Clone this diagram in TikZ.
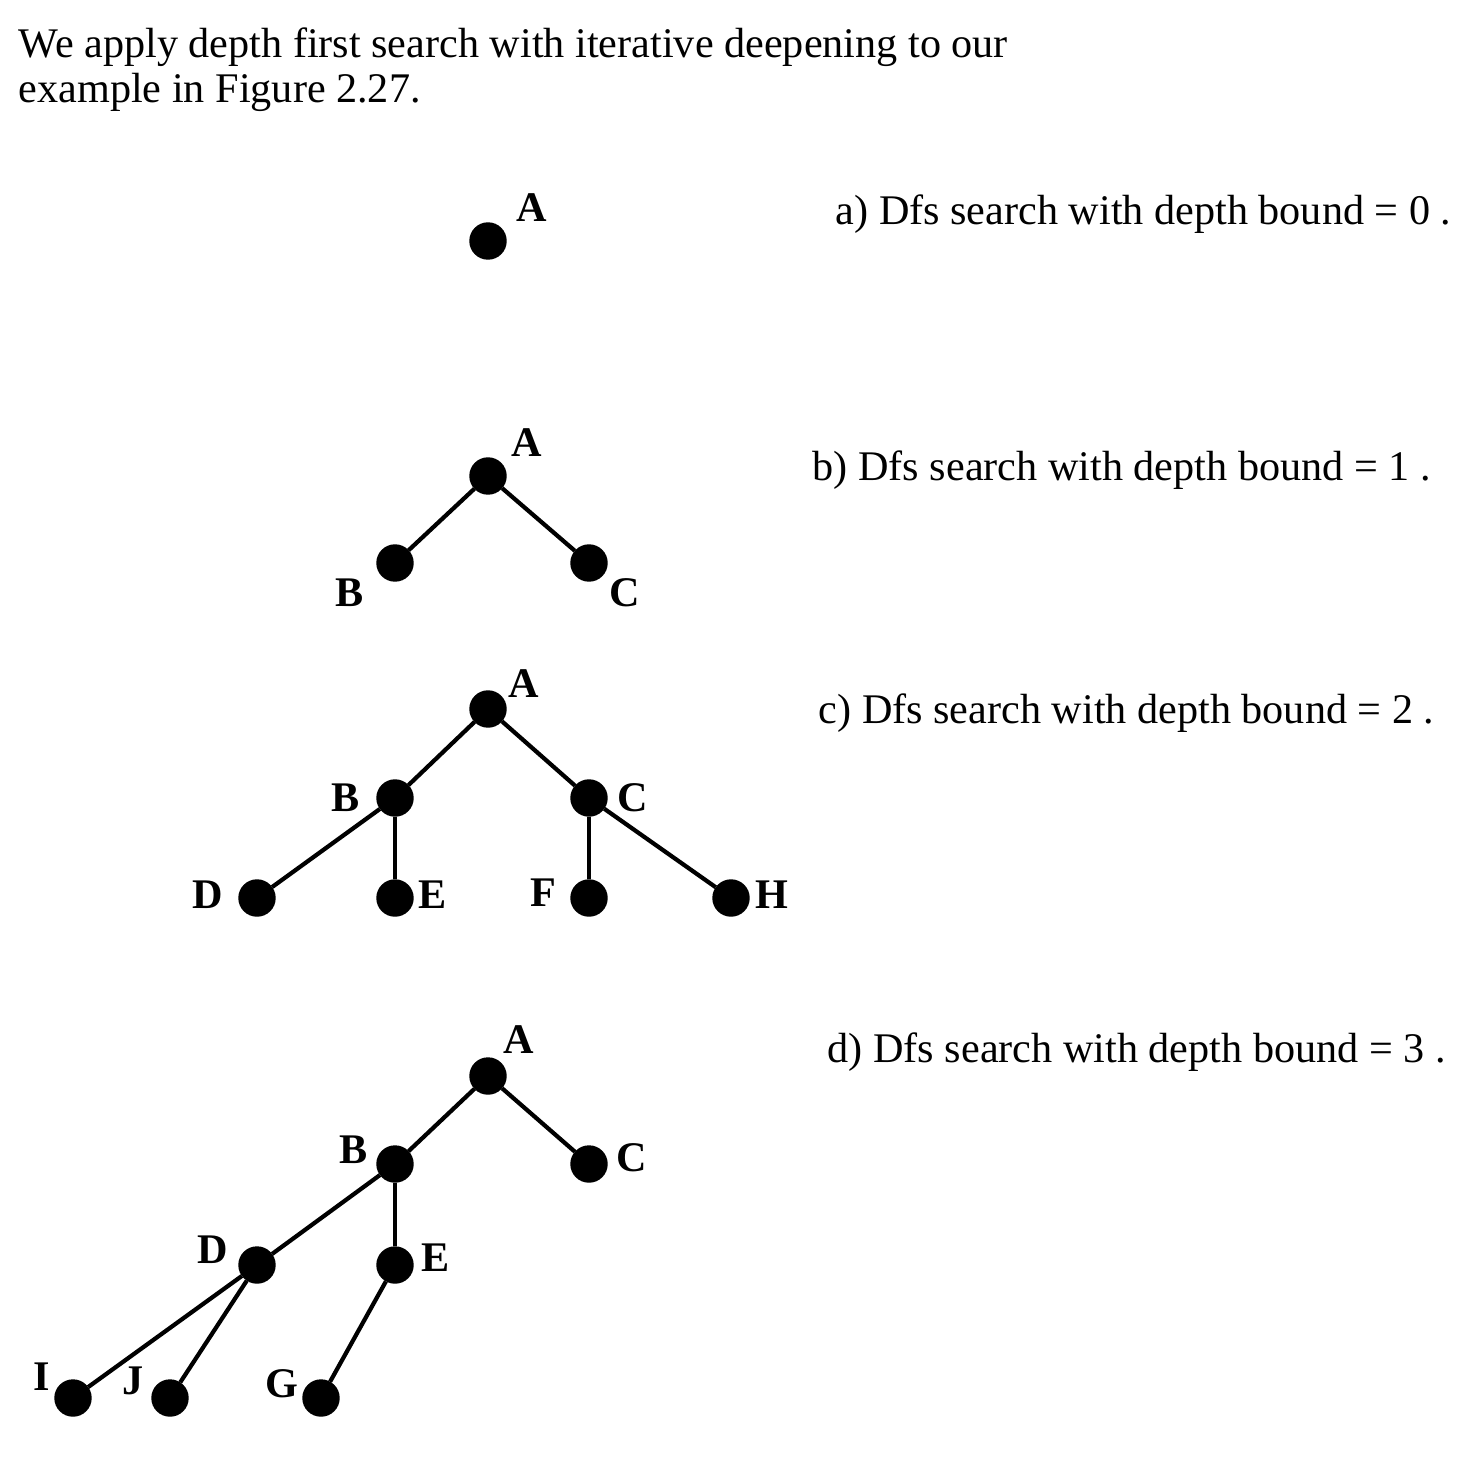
\documentclass[tikz,border=0pt]{standalone}
\usepackage{fontspec}
\setmainfont{Liberation Serif}
\begin{document}
\begin{tikzpicture}[x=0.01cm,y=-0.01cm,
    dot/.style={draw,circle,fill=black,inner sep=0pt,minimum size=0.36cm},
    lbl/.style={font=\fontsize{12}{13}\selectfont\bfseries,inner sep=0pt},
    edge/.style={draw,line width=1.2pt},
    txt/.style={font=\fontsize{12}{13}\selectfont,inner sep=0pt,anchor=base west,align=left}]
  \useasboundingbox (0,0) rectangle (1483,1464);
  %\draw[help lines] (0,0) grid[step=100] (1483,1464);

  \draw (18,103) node[txt](intro) {We apply depth first search with iterative deepening to our\\example in Figure 2.27.};

  % a) depth bound 0
  \draw (488,241) node[dot](aA) {};
  \draw (532,208) node[lbl](laA) {A};
  \draw (835,225) node[txt](capa) {a) Dfs search with depth bound = 0 .};

  % b) depth bound 1
  \draw (488,476) node[dot](bA) {};
  \draw (395,563) node[dot](bB) {};
  \draw (589,563) node[dot](bC) {};
  \draw (527,443) node[lbl](lbA) {A};
  \draw (350,593) node[lbl](lbB) {B};
  \draw (625,593) node[lbl](lbC) {C};
  \draw (812,480) node[txt](capb) {b) Dfs search with depth bound = 1 .};

  \path[edge] (bA) -- (bB);
  \path[edge] (bA) -- (bC);

  % c) depth bound 2
  \draw (488,709) node[dot](cA) {};
  \draw (395,798) node[dot](cB) {};
  \draw (589,798) node[dot](cC) {};
  \draw (257,898) node[dot](cD) {};
  \draw (395,898) node[dot](cE) {};
  \draw (589,898) node[dot](cF) {};
  \draw (731,898) node[dot](cH) {};
  \draw (524,684) node[lbl](lcA) {A};
  \draw (346,798) node[lbl](lcB) {B};
  \draw (633,798) node[lbl](lcC) {C};
  \draw (208,895) node[lbl](lcD) {D};
  \draw (433,895) node[lbl](lcE) {E};
  \draw (543,893) node[lbl](lcF) {F};
  \draw (772,895) node[lbl](lcH) {H};
  \draw (818,723) node[txt](capc) {c) Dfs search with depth bound = 2 .};

  \path[edge] (cA) -- (cB);
  \path[edge] (cA) -- (cC);
  \path[edge] (cB) -- (cD);
  \path[edge] (cB) -- (cE);
  \path[edge] (cC) -- (cF);
  \path[edge] (cC) -- (cH);

  % d) depth bound 3
  \draw (488,1076) node[dot](dA) {};
  \draw (395,1164) node[dot](dB) {};
  \draw (589,1164) node[dot](dC) {};
  \draw (257,1265) node[dot](dD) {};
  \draw (395,1265) node[dot](dE) {};
  \draw (73,1398) node[dot](dI) {};
  \draw (170,1398) node[dot](dJ) {};
  \draw (321,1398) node[dot](dG) {};
  \draw (519,1040) node[lbl](ldA) {A};
  \draw (354,1150) node[lbl](ldB) {B};
  \draw (632,1158) node[lbl](ldC) {C};
  \draw (213,1250) node[lbl](ldD) {D};
  \draw (436,1258) node[lbl](ldE) {E};
  \draw (42,1377) node[lbl](ldI) {I};
  \draw (133,1381) node[lbl](ldJ) {J};
  \draw (282,1384) node[lbl](ldG) {G};
  \draw (827,1062) node[txt](capd) {d) Dfs search with depth bound = 3 .};

  \path[edge] (dA) -- (dB);
  \path[edge] (dA) -- (dC);
  \path[edge] (dB) -- (dD);
  \path[edge] (dB) -- (dE);
  \path[edge] (dD) -- (dI);
  \path[edge] (dD) -- (dJ);
  \path[edge] (dE) -- (dG);

\end{tikzpicture}
\end{document}
